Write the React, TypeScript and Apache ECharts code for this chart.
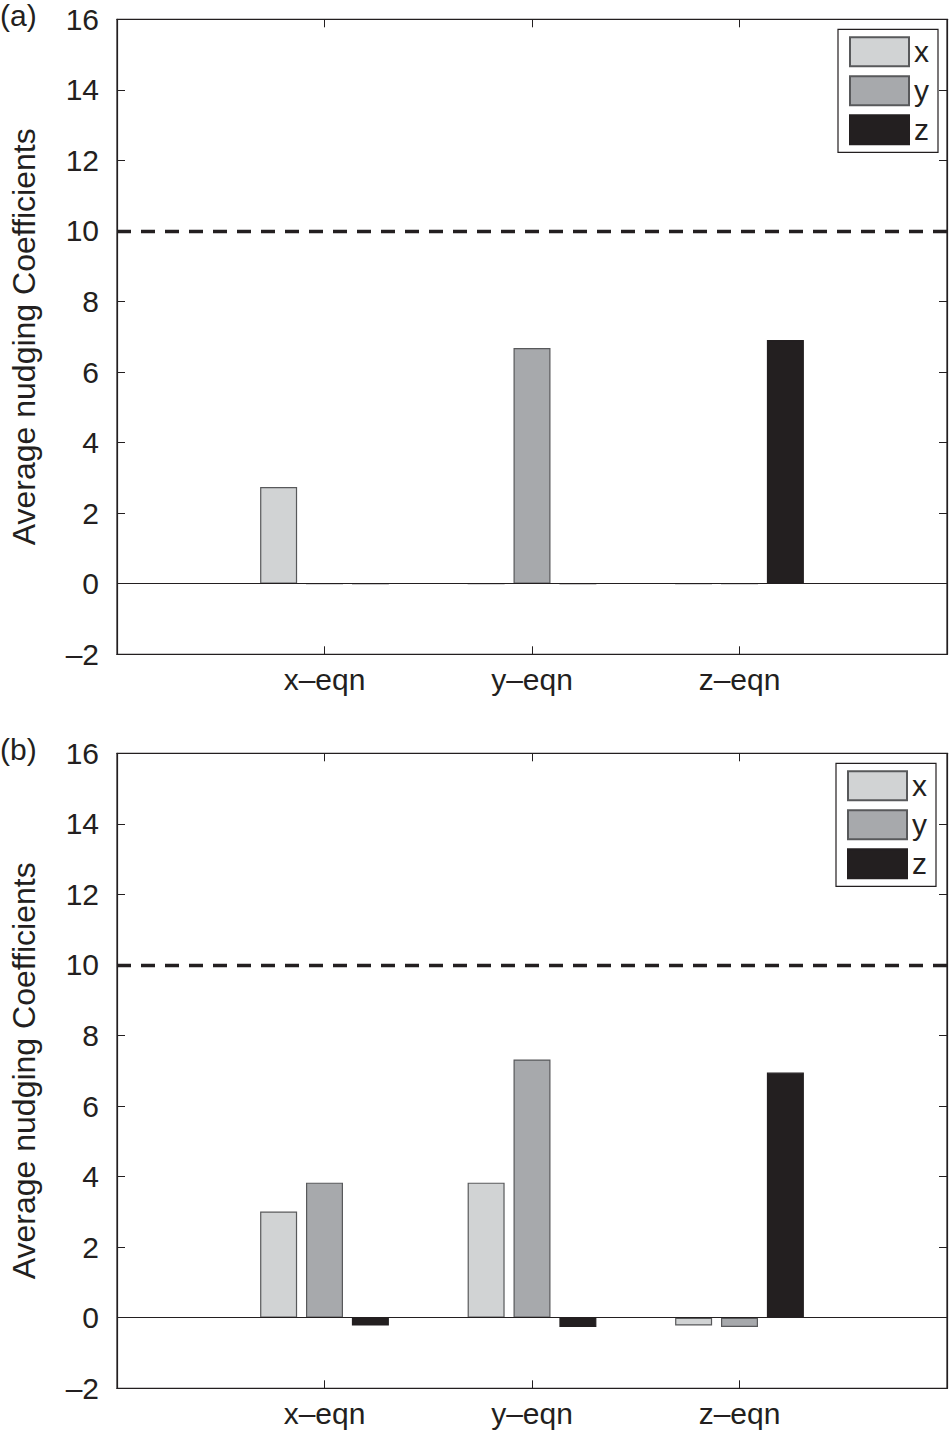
import React, { useEffect, useRef } from "react";
import * as echarts from "echarts";

const categories = ["x\u2013eqn", "y\u2013eqn", "z\u2013eqn"];
const seriesNames = ["x", "y", "z"];
const seriesColors = ["#d1d3d4", "#a7a9ac", "#231f20"];
const seriesBorders = ["#58595b", "#58595b", "#231f20"];

// panel (a)
const aX = [2.74, 0, 0];
const aY = [0, 6.68, 0];
const aZ = [0, 0, 6.91];
// panel (b)
const bX = [3.01, 3.83, -0.22];
const bY = [3.83, 7.32, -0.26];
const bZ = [-0.22, -0.26, 6.95];

const yTicks = { min: -2, max: 16, interval: 2 };
const thresholdValue = 10;
const panelLabels = ["(a)", "(b)"];
const yTitle = "Average nudging Coefficients";

const FONT = "Liberation Sans, Arial, Helvetica, sans-serif";
const INK = "#231f20";

export default function App() {
  const ref = useRef<HTMLDivElement>(null);
  useEffect(() => {
    document.body.style.margin = "0";
    if (!ref.current) return;
    const chart = echarts.init(ref.current, undefined, { renderer: "svg" });
    const axisCats = ["", ...categories, ""];
    const pad = (arr: number[]) => ["-", ...arr, "-"];
    const panels = [
      { top: 19.3, data: [aX, aY, aZ] },
      { top: 753.3, data: [bX, bY, bZ] },
    ];
    const grid: any[] = [];
    const xAxis: any[] = [];
    const yAxis: any[] = [];
    const series: any[] = [];
    const legend: any[] = [];
    const graphic: any[] = [];
    panels.forEach((p, gi) => {
      grid.push({
        left: 117,
        top: p.top,
        width: 830,
        height: 635,
        show: true,
        borderColor: INK,
        borderWidth: 1.2,
        backgroundColor: "transparent",
      });
      const tickInterval = (i: number) => i >= 1 && i <= 3;
      xAxis.push({
        type: "category",
        gridIndex: gi,
        position: "bottom",
        data: axisCats,
        boundaryGap: false,
        axisLine: { show: true, onZero: false, lineStyle: { color: INK, width: 1.2 } },
        axisTick: { show: true, inside: true, length: 8, interval: tickInterval, lineStyle: { color: INK, width: 1 } },
        axisLabel: { interval: 0, margin: 10, fontSize: 30, fontFamily: FONT, color: INK },
        splitLine: { show: false },
      });
      xAxis.push({
        type: "category",
        gridIndex: gi,
        position: "top",
        data: axisCats,
        boundaryGap: false,
        axisLine: { show: true, onZero: false, lineStyle: { color: INK, width: 1.2 } },
        axisTick: { show: true, inside: true, length: 8, interval: tickInterval, lineStyle: { color: INK, width: 1 } },
        axisLabel: { show: false },
        splitLine: { show: false },
      });
      yAxis.push({
        type: "value",
        gridIndex: gi,
        position: "left",
        min: yTicks.min,
        max: yTicks.max,
        interval: yTicks.interval,
        name: yTitle,
        nameLocation: "middle",
        nameGap: 77,
        nameTextStyle: { fontSize: 32, fontFamily: FONT, color: INK },
        axisLine: { show: true, onZero: false, lineStyle: { color: INK, width: 1.2 } },
        axisTick: { show: true, inside: true, length: 8, lineStyle: { color: INK, width: 1 } },
        axisLabel: {
          margin: 18,
          fontSize: 30,
          fontFamily: FONT,
          color: INK,
          formatter: (v: number) => (v < 0 ? "\u2013" + Math.abs(v) : String(v)),
        },
        splitLine: { show: false },
      });
      yAxis.push({
        type: "value",
        gridIndex: gi,
        position: "right",
        min: yTicks.min,
        max: yTicks.max,
        interval: yTicks.interval,
        axisLine: { show: true, onZero: false, lineStyle: { color: INK, width: 1.2 } },
        axisTick: { show: true, inside: true, length: 8, lineStyle: { color: INK, width: 1 } },
        axisLabel: { show: false },
        splitLine: { show: false },
      });
      p.data.forEach((vals, si) => {
        const s: any = {
          type: "bar",
          name: seriesNames[si],
          xAxisIndex: gi * 2,
          yAxisIndex: gi * 2,
          data: pad(vals),
          barWidth: 37,
          barGap: "24%",
          itemStyle: { color: seriesColors[si], borderColor: seriesBorders[si], borderWidth: 1.2 },
          emphasis: { disabled: true },
        };
        if (si === 0) {
          s.markLine = {
            silent: true,
            symbol: "none",
            label: { show: false },
            animation: false,
            data: [
              { yAxis: 0, lineStyle: { color: INK, width: 1.2, type: "solid" } },
              { yAxis: thresholdValue, lineStyle: { color: INK, width: 3.4, type: [14, 10] } },
            ],
          };
        }
        series.push(s);
      });
      legend.push({
        orient: "vertical",
        left: gi === 0 ? 838 : 836,
        top: p.top + 10,
        padding: [7, 9, 7, 11],
        itemGap: 8,
        itemWidth: 59,
        itemHeight: 29,
        itemTextGap: 6,
        borderColor: INK,
        borderWidth: 1.2,
        backgroundColor: "#ffffff",
        icon: "rect",
        selectedMode: false,
        data: seriesNames,
        textStyle: { fontSize: 30, fontFamily: FONT, color: INK, lineHeight: 28 },
      });
      graphic.push({
        type: "text",
        left: 0,
        top: p.top - 19,
        style: { text: panelLabels[gi], fontSize: 30, fontFamily: FONT, fill: INK },
      });
    });
    chart.setOption({
      animation: false,
      backgroundColor: "#ffffff",
      textStyle: { fontFamily: FONT },
      grid,
      xAxis,
      yAxis,
      series,
      legend,
      graphic,
    });
    return () => chart.dispose();
  }, []);
  return (
    <div
      ref={ref}
      style={{ width: 950, height: 1432, position: "absolute", left: 0, top: 0 }}
    />
  );
}
